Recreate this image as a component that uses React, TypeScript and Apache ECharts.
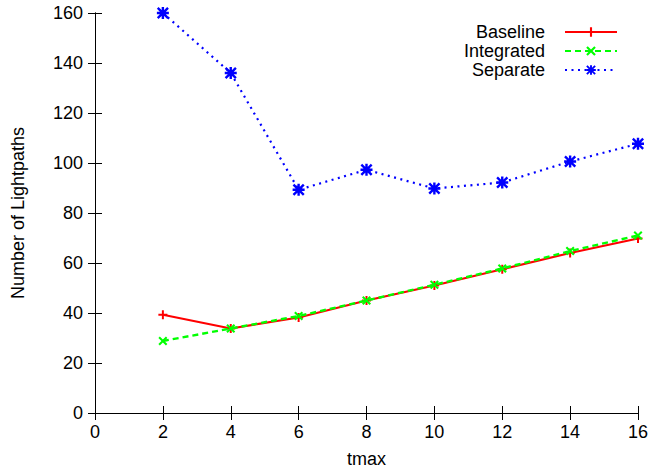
import React, { useEffect, useRef } from "react";
import * as echarts from "echarts";

const tmax = [2, 4, 6, 8, 10, 12, 14, 16];
const baseline = [39.3, 33.8, 38.2, 45, 51, 57.5, 64, 69.8];
const integrated = [28.8, 33.8, 38.8, 45, 51.3, 57.8, 64.8, 71];
const separate = [160, 136, 89.3, 97.3, 89.8, 92.2, 100.6, 107.7];
const seriesNames = ["Baseline", "Integrated", "Separate"];

const PLUS = "path://M3.9,0H6.1V3.9H10V6.1H6.1V10H3.9V6.1H0V3.9H3.9Z";
const CROSS =
  "path://M0,1.6L1.6,0L5,3.4L8.4,0L10,1.6L6.6,5L10,8.4L8.4,10L5,6.6L1.6,10L0,8.4L3.4,5Z";
const STAR =
  "path://M4,0H6V10H4Z M0,4H10V6H0Z M0,1.4L1.4,0L10,8.6L8.6,10Z M8.6,0L10,1.4L1.4,10L0,8.6Z";

const FONT = "Liberation Sans";
const FS = 18;

export default function App() {
  const ref = useRef<HTMLDivElement>(null);
  useEffect(() => {
    document.body.style.margin = "0";
    const chart = echarts.init(ref.current!, null, { renderer: "svg" });
    const pair = (ys: number[]) => tmax.map((x, i) => [x, ys[i]]);
    const axisCommon = {
      axisLine: { show: true, lineStyle: { color: "#000", width: 1 } },
      axisTick: { show: true, inside: true, length: 7, lineStyle: { color: "#000", width: 1 } },
      splitLine: { show: false },
    };
    const legendRows = [23, 42, 61];
    chart.setOption({
      animation: false,
      backgroundColor: "#fff",
      textStyle: { fontFamily: FONT },
      grid: {
        left: 95,
        right: 25,
        top: 13,
        bottom: 55,
        show: false,
        containLabel: false,
        outerBoundsMode: "none",
      },
      legend: seriesNames.map((n, i) => ({
        data: [n],
        right: 45,
        top: legendRows[i],
        orient: "vertical",
        align: "right",
        itemWidth: 52,
        itemHeight: 12,
        padding: 0,
        textStyle: { fontFamily: FONT, fontSize: FS, color: "#000", padding: [0, 15, 0, 0] },
        selectedMode: false,
      })),
      xAxis: [
        {
          type: "value",
          min: 0,
          max: 16,
          interval: 2,
          position: "bottom",
          name: "tmax",
          nameLocation: "middle",
          nameGap: 37,
          nameTextStyle: { fontFamily: FONT, fontSize: FS, color: "#000" },
          axisLabel: { fontFamily: FONT, fontSize: FS, color: "#000", margin: 10 },
          ...axisCommon,
        },
        {
          type: "value",
          min: 0,
          max: 16,
          interval: 2,
          position: "top",
          axisLabel: { show: false },
          ...axisCommon,
        },
      ],
      yAxis: [
        {
          type: "value",
          min: 0,
          max: 160,
          interval: 20,
          position: "left",
          name: "Number of Lightpaths",
          nameLocation: "middle",
          nameGap: 68,
          nameTextStyle: { fontFamily: FONT, fontSize: FS, color: "#000" },
          axisLabel: { fontFamily: FONT, fontSize: FS, color: "#000", margin: 12 },
          ...axisCommon,
        },
        {
          type: "value",
          min: 0,
          max: 160,
          interval: 20,
          position: "right",
          axisLabel: { show: false },
          ...axisCommon,
        },
      ],
      series: [
        {
          name: "Baseline",
          type: "line",
          data: pair(baseline),
          symbol: PLUS,
          symbolSize: 9,
          color: "#ff0000",
          lineStyle: { color: "#ff0000", width: 2.2, type: "solid" },
          itemStyle: { color: "#ff0000" },
          z: 2,
        },
        {
          name: "Integrated",
          type: "line",
          data: pair(integrated),
          symbol: CROSS,
          symbolSize: 9,
          color: "#00ff00",
          lineStyle: { color: "#00ff00", width: 2.4, type: [6, 4] },
          itemStyle: { color: "#00ff00" },
          z: 3,
        },
        {
          name: "Separate",
          type: "line",
          data: pair(separate),
          symbol: STAR,
          symbolSize: 12,
          color: "#0000ff",
          lineStyle: { color: "#0000ff", width: 2.2, type: [2, 4.5] },
          itemStyle: { color: "#0000ff" },
          clip: false,
          z: 4,
        },
      ],
    });
    return () => chart.dispose();
  }, []);
  return <div ref={ref} style={{ width: 663, height: 468 }} />;
}
